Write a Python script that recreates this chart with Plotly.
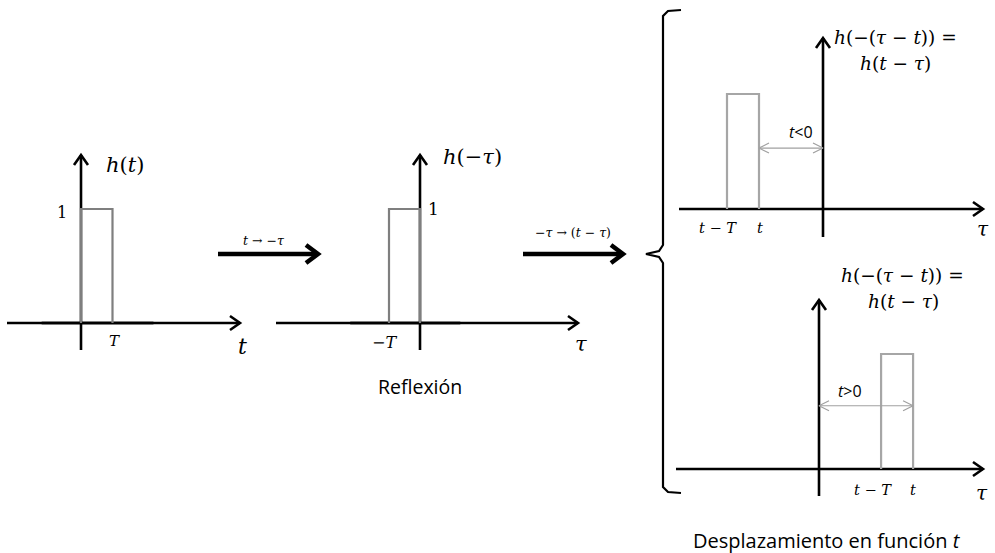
import plotly.graph_objects as go

# ---------------- data (logical units) ----------------
T = 1.0                      # pulse width
pulse_level = [0, 1, 1, 0]   # rectangular pulse heights
p1_x = [0, 0, T, T]                      # h(t)
p2_x = [-T, -T, 0, 0]                    # h(-tau)
t_neg = -2.0                             # shift t < 0
p3_x = [t_neg - T, t_neg - T, t_neg, t_neg]
t_pos = 2.94                             # shift t > 0
p4_x = [t_pos - T, t_pos - T, t_pos, t_pos]

# ---------------- layout of panels (canvas px) ----------------
W, H = 995, 553
panels = {
    1: dict(ox=81, oy=323, sx=31.5, sy=114, xl=7, xr=240, yb=350, yt=155),
    2: dict(ox=420, oy=323, sx=31, sy=114, xl=276, xr=578, yb=350, yt=155),
    3: dict(ox=823, oy=209, sx=32, sy=115, xl=679, xr=983, yb=237, yt=38),
    4: dict(ox=819, oy=469, sx=32, sy=115, xl=676, xr=983, yb=496, yt=300),
}

fig = go.Figure()


def line(xs, ys, color="black", width=2.5):
    fig.add_trace(go.Scatter(x=xs, y=ys, mode="lines", hoverinfo="skip",
                             line=dict(color=color, width=width), showlegend=False))


def head(x, y, d, L, w, color="black", width=2.5):
    # open chevron arrowhead pointing in direction d
    if d == "r":
        line([x - L, x, x - L], [y - w, y, y + w], color, width)
    elif d == "l":
        line([x + L, x, x + L], [y - w, y, y + w], color, width)
    elif d == "u":
        line([x - w, x, x + w], [y + L, y, y + L], color, width)


def to_canvas(p, xs, ys):
    return [p["ox"] + v * p["sx"] for v in xs], [p["oy"] - v * p["sy"] for v in ys]


# faint grey baseline of the pulses (first two panels)
for k, a, b in [(1, -1.25, 2.3), (2, -2.25, 1.3)]:
    p = panels[k]
    cx, cy = to_canvas(p, [a, b], [0, 0])
    line(cx, cy, "#8c8c8c", 3.6)

# axes of each panel
for k, p in panels.items():
    line([p["xl"], p["xr"]], [p["oy"], p["oy"]], "black", 2.6)
    head(p["xr"], p["oy"], "r", 10, 7, "black", 2.6)
    line([p["ox"], p["ox"]], [p["yb"], p["yt"]], "black", 2.6)
    head(p["ox"], p["yt"], "u", 10, 7, "black", 2.6)

# pulses
pulse_cols = {1: "#7f7f7f", 2: "#7f7f7f", 3: "#a6a6a6", 4: "#a6a6a6"}
for k, px in zip([1, 2, 3, 4], [p1_x, p2_x, p3_x, p4_x]):
    cx, cy = to_canvas(panels[k], px, pulse_level)
    line(cx, cy, pulse_cols[k], 2.2)

# double arrows showing shift t
for k, a, b, yv in [(3, t_neg, 0, 0.53), (4, 0, t_pos, 0.55)]:
    p = panels[k]
    (xa, xb), (ya, _) = to_canvas(p, [a, b], [yv, yv])
    line([xa, xb], [ya, ya], "#a0a0a0", 1.2)
    head(xb, ya, "r", 10, 5, "#a0a0a0", 1.2)
    head(xa, ya, "l", 10, 5, "#a0a0a0", 1.2)

# transformation arrows
for x0, x1, yv in [(218, 318, 254), (523, 623, 254)]:
    line([x0, x1 - 2], [yv, yv], "black", 4.5)
    head(x1, yv, "r", 12, 9, "black", 4.5)

# brace
brace_x = [681, 668, 663, 663, 659, 646, 659, 663, 663, 668, 681]
brace_y = [10, 11, 16, 245, 251, 254, 257, 263, 487, 492, 493]
line(brace_x, brace_y, "black", 2.2)

# ---------------- text ----------------
MATH = "DejaVu Serif"
SANS = "Open Sans"
labels = [
    (125, 165, "<i>h</i>(<i>t</i>)", MATH, 21),
    (62, 212, "1", MATH, 16),
    (114, 341, "<i>T</i>", MATH, 15),
    (242, 346, "<i>t</i>", MATH, 22),
    (472, 157, "<i>h</i>(−<i>τ</i>)", MATH, 21),
    (433, 209, "1", MATH, 17),
    (384, 342, "−<i>T</i>", MATH, 16),
    (581, 344, "<i>τ</i>", MATH, 21),
    (420, 386, "Reflexión", SANS, 19.5),
    (264, 240, "<i>t</i> → −<i>τ</i>", MATH, 12.5),
    (573, 232, "−<i>τ</i> → (<i>t</i> − <i>τ</i>)", MATH, 12.5),
    (895, 37, "<i>h</i>(−(<i>τ</i> − <i>t</i>)) =", MATH, 18.5),
    (895, 63, "<i>h</i>(<i>t</i> − <i>τ</i>)", MATH, 18.5),
    (801, 132, "<i>t</i>&lt;0", SANS, 16),
    (718, 228, "<i>t</i> − <i>T</i>", MATH, 14.5),
    (760, 228, "<i>t</i>", MATH, 14.5),
    (983, 229, "<i>τ</i>", MATH, 20),
    (902, 275, "<i>h</i>(−(<i>τ</i> − <i>t</i>)) =", MATH, 18.5),
    (903, 301, "<i>h</i>(<i>t</i> − <i>τ</i>)", MATH, 18.5),
    (850, 391, "<i>t</i>&gt;0", SANS, 16),
    (873, 490, "<i>t</i> − <i>T</i>", MATH, 14.5),
    (913, 490, "<i>t</i>", MATH, 14.5),
    (982, 493, "<i>τ</i>", MATH, 20),
    (827, 540, "Desplazamiento en función <i>t</i>", SANS, 20),
]
for x, y, txt, fam, sz in labels:
    fig.add_annotation(x=x, y=y, xref="x", yref="y", text=txt, showarrow=False,
                       font=dict(family=fam, size=sz, color="black"),
                       xanchor="center", yanchor="middle")

fig.update_layout(
    width=W, height=H, margin=dict(l=0, r=0, t=0, b=0),
    paper_bgcolor="white", plot_bgcolor="white",
    xaxis=dict(range=[0, W], visible=False, fixedrange=True),
    yaxis=dict(range=[H, 0], visible=False, fixedrange=True),
)

fig.write_html("out.html", config={"displayModeBar": False},
               post_script="document.body.style.margin='0';")
